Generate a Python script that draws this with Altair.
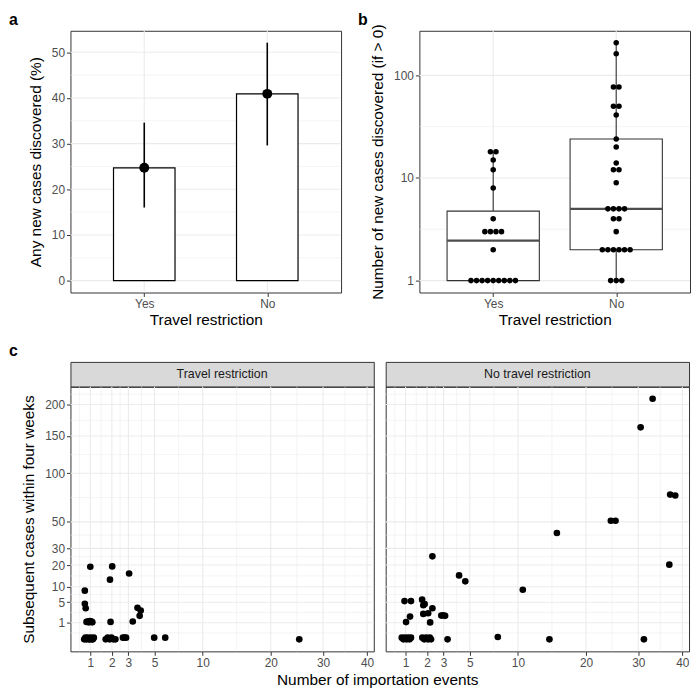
import altair as alt
import numpy as np
import pandas as pd

FONT = "Liberation Sans"
BORDER = "#333333"
GRID = "#EBEBEB"

# ---------------- data ----------------
restriction = ["Yes", "No"]
any_new_pct = [24.7, 40.9]
any_new_lo = [16.0, 29.6]
any_new_hi = [34.6, 52.1]

cases_yes = [1, 1, 1, 1, 1, 1, 1, 1, 1, 2, 3, 3, 3, 3, 4, 8, 12, 15, 18, 18]
cases_no = [1, 1, 1, 2, 2, 2, 2, 2, 2, 3, 4, 4, 5, 5, 5, 5, 9, 12, 12, 14,
            20, 24, 41, 50, 50, 77, 77, 162, 208]

strip_labels = ["Travel restriction", "No travel restriction"]

tr_import = [1.0, 2.02, 3.05, 1.9, 0.8, 0.8, 0.83, 3.64, 3.88, 3.8, 3.3, 1.93,
             0.86, 0.9, 0.94, 0.98, 1.02, 1.05, 1.08,
             0.78, 0.82, 0.86, 0.9, 0.94, 0.98, 1.02, 1.06, 1.1, 1.14,
             1.68, 1.78, 1.88, 1.98, 2.08, 2.2, 2.65, 2.75, 2.85, 4.97, 5.96, 25.2]
tr_subseq = [19.1, 19.3, 15.7, 12.9, 8.6, 4.6, 3.5, 3.6, 3.0, 2.0, 1.15, 1.1,
             1.1, 1.15, 1.05, 1.2, 1.1, 1.15, 1.05,
             0, 0.01, 0, 0.01, 0, 0, 0.01, 0, 0, 0.01,
             0, 0.01, 0, 0.01, 0, 0, 0.01, 0.01, 0.01, 0.01, 0.01, 0]

ntr_import = [33.1, 30.5, 37.1, 38.3, 24.5, 25.4, 15.3, 2.3, 36.9, 4.12, 4.62, 10.6,
              0.96, 1.22, 1.74, 1.8, 1.87, 2.3, 1.8, 2.06, 2.85, 2.97, 3.1, 1.18, 1.02, 2.17,
              0.86, 0.92, 0.98, 1.04, 1.1, 1.16, 1.22, 1.75, 1.85, 1.95, 2.05, 2.15, 2.22,
              3.27, 7.7, 14.2, 31.2]
ntr_subseq = [210, 163, 76, 75, 51, 51, 41, 25, 20.2, 14.8, 12.2, 8.9,
              5.3, 5.3, 5.7, 4.2, 4.5, 3.5, 2.34, 2.46, 2.05, 2.1, 2.0, 1.88, 1.08, 1.04,
              0.01, 0, 0.01, 0, 0.01, 0, 0.01, 0.01, 0, 0.01, 0, 0.01, 0,
              0, 0.02, 0, 0]

a_y_breaks = [0, 10, 20, 30, 40, 50]
b_y_breaks = [1, 10, 100]
c_x_breaks = [1, 2, 3, 5, 10, 20, 30, 40]
c_y_breaks = [1, 5, 10, 20, 30, 50, 100, 150, 200]

# ---------------- sizes ----------------
WA, HA = 273, 264
WC, HC = 306, 267
C_GAP = 8
STRIP_H = 25
TAG_X, TAG_Y = -62, -6

# ---------------- transforms / helpers ----------------
ident = (lambda v: v, lambda t: t)
log10 = (lambda v: np.log10(v), lambda t: 10 ** t)
sqrt_ = (lambda v: np.sign(v) * np.sqrt(abs(v)), lambda t: np.sign(t) * t * t)


def expand(vals, tr, mult=0.05):
    f, inv = tr
    t = [f(v) for v in vals]
    lo, hi = min(t), max(t)
    d = (hi - lo) * mult
    return [float(inv(lo - d)), float(inv(hi + d))]


def grid_values(breaks, dom, tr):
    f, inv = tr
    lo, hi = f(dom[0]), f(dom[1])
    b = [f(v) for v in breaks]
    major = [v for v, t in zip(breaks, b) if lo <= t <= hi]
    bd = b[1] - b[0]
    ext = list(b)
    if lo < ext[0]:
        ext = [ext[0] - bd] + ext
    if hi > ext[-1]:
        ext = ext + [ext[-1] + bd]
    minor = [float(inv((ext[i] + ext[i + 1]) / 2)) for i in range(len(ext) - 1)]
    minor = [v for v in minor if lo <= f(v) <= hi]
    return major, minor


def grid_layers(X, Y, xmaj, xmin, ymaj, ymin):
    out = []
    for vals, w in ((xmin, 0.55), (xmaj, 1.1)):
        if vals:
            out.append(alt.Chart(pd.DataFrame({"gx": vals}))
                       .mark_rule(color=GRID, strokeWidth=w).encode(x=X("gx")))
    for vals, w in ((ymin, 0.55), (ymaj, 1.1)):
        if vals:
            out.append(alt.Chart(pd.DataFrame({"gy": vals}))
                       .mark_rule(color=GRID, strokeWidth=w).encode(y=Y("gy")))
    return out


def tag(letter):
    return (alt.Chart(pd.DataFrame({"t": [letter]}))
            .mark_text(font=FONT, fontSize=16, fontWeight="bold", align="left",
                       baseline="alphabetic", color="#000000")
            .encode(x=alt.value(TAG_X), y=alt.value(TAG_Y), text="t:N"))


# ---------------- panel a ----------------
cat_pos = [1, 2]
cat_dom = [0.4, 2.6]
cat_label_expr = f"datum.value == 1 ? '{restriction[0]}' : '{restriction[1]}'"


def Xcat(field):
    return alt.X(f"{field}:Q", scale=alt.Scale(domain=cat_dom, nice=False, zero=False),
                 axis=alt.Axis(values=cat_pos, labelExpr=cat_label_expr),
                 title="Travel restriction")


a_y_dom = expand([0] + any_new_hi, ident)


def Ya(field):
    return alt.Y(f"{field}:Q", scale=alt.Scale(domain=a_y_dom, nice=False, zero=False),
                 axis=alt.Axis(values=a_y_breaks), title="Any new cases discovered (%)")


ay_maj, ay_min = grid_values(a_y_breaks, a_y_dom, ident)
df_a = pd.DataFrame({"pos": cat_pos, "x0": [p - 0.25 for p in cat_pos],
                     "x1": [p + 0.25 for p in cat_pos], "base": [0, 0],
                     "pct": any_new_pct, "lo": any_new_lo, "hi": any_new_hi})
base_a = alt.Chart(df_a)
panel_a = alt.layer(
    *grid_layers(Xcat, Ya, cat_pos, [], ay_maj, ay_min),
    base_a.mark_rect(fill="white", stroke="#000000", strokeWidth=1.2).encode(
        x=Xcat("x0"), x2="x1:Q", y=Ya("base"), y2="pct:Q"),
    base_a.mark_rule(color="#000000", strokeWidth=1.6).encode(
        x=Xcat("pos"), y=Ya("lo"), y2="hi:Q"),
    base_a.mark_circle(color="#000000", size=100, opacity=1).encode(
        x=Xcat("pos"), y=Ya("pct")),
    tag("a"),
).properties(width=WA, height=HA)

# ---------------- panel b ----------------
b_y_dom = expand(cases_yes + cases_no, log10)


def Yb(field):
    return alt.Y(f"{field}:Q", scale=alt.Scale(type="log", domain=b_y_dom, nice=False, zero=False),
                 axis=alt.Axis(values=b_y_breaks, format="d"),
                 title="Number of new cases discovered (if > 0)")


def box_stats(vals):
    lv = np.log10(np.array(vals, dtype=float))
    q1, med, q3 = np.percentile(lv, [25, 50, 75])
    iqr = q3 - q1
    lo = lv[lv >= q1 - 1.5 * iqr].min()
    hi = lv[lv <= q3 + 1.5 * iqr].max()
    return [10 ** v for v in (lo, q1, med, q3, hi)]


box_rows = []
dot_rows = []
DOT_PX = 5.6
DOT_STEP = DOT_PX / (WA / (cat_dom[1] - cat_dom[0]))
for p, vals in zip(cat_pos, (cases_yes, cases_no)):
    lo, q1, med, q3, hi = box_stats(vals)
    box_rows.append({"pos": p, "x0": p - 0.375, "x1": p + 0.375,
                     "lo": lo, "q1": q1, "med": med, "q3": q3, "hi": hi})
    uniq, counts = np.unique(vals, return_counts=True)
    for v, n in zip(uniq, counts):
        for k in range(n):
            dot_rows.append({"dx": p + (k - (n - 1) / 2) * DOT_STEP, "cases": float(v)})
df_box = pd.DataFrame(box_rows)
df_dot = pd.DataFrame(dot_rows)
by_maj, by_min = grid_values(b_y_breaks, b_y_dom, log10)
base_b = alt.Chart(df_box)
panel_b = alt.layer(
    *grid_layers(Xcat, Yb, cat_pos, [], by_maj, by_min),
    base_b.mark_rule(color=BORDER, strokeWidth=1.1).encode(x=Xcat("pos"), y=Yb("q3"), y2="hi:Q"),
    base_b.mark_rule(color=BORDER, strokeWidth=1.1).encode(x=Xcat("pos"), y=Yb("lo"), y2="q1:Q"),
    base_b.mark_rect(fill="white", stroke=BORDER, strokeWidth=1.1).encode(
        x=Xcat("x0"), x2="x1:Q", y=Yb("q1"), y2="q3:Q"),
    base_b.mark_rule(color="#4D4D4D", strokeWidth=2.2).encode(x=Xcat("x0"), x2="x1:Q", y=Yb("med")),
    alt.Chart(df_dot).mark_circle(color="#000000", size=DOT_PX ** 2, opacity=1).encode(
        x=Xcat("dx"), y=Yb("cases")),
    tag("b"),
).properties(width=WA, height=HA)

# ---------------- panel c ----------------
c_x_dom = expand(tr_import + ntr_import, sqrt_)
c_y_dom = expand(tr_subseq + ntr_subseq, sqrt_)
cx_maj, cx_min = grid_values(c_x_breaks, c_x_dom, sqrt_)
cy_maj, cy_min = grid_values(c_y_breaks, c_y_dom, sqrt_)


def c_plot(imp, sub, left):
    def X(field):
        return alt.X(f"{field}:Q",
                     scale=alt.Scale(type="sqrt", domain=c_x_dom, nice=False, zero=False),
                     axis=alt.Axis(values=c_x_breaks), title=None)

    def Y(field):
        sc = alt.Scale(type="sqrt", domain=c_y_dom, nice=False, zero=False)
        if left:
            return alt.Y(f"{field}:Q", scale=sc, axis=alt.Axis(values=c_y_breaks),
                         title="Subsequent cases within four weeks")
        return alt.Y(f"{field}:Q", scale=sc, axis=None)

    df = pd.DataFrame({"imp": imp, "sub": sub})
    return alt.layer(
        *grid_layers(X, Y, cx_maj, cx_min, cy_maj, cy_min),
        alt.Chart(df).mark_circle(color="#000000", size=45, opacity=1).encode(
            x=X("imp"), y=Y("sub")),
    ).properties(width=WC, height=HC)


def strip(label, letter=None):
    layers = [alt.Chart(pd.DataFrame({"lab": [label]}))
              .mark_text(font=FONT, fontSize=12.5, color="#1A1A1A", align="center",
                         baseline="middle")
              .encode(x=alt.value(WC / 2), y=alt.value(STRIP_H / 2), text="lab:N")]
    if letter:
        layers.append(tag(letter))
    return alt.layer(*layers).properties(
        width=WC, height=STRIP_H,
        view=alt.ViewBackground(fill="#D9D9D9", stroke=BORDER, strokeWidth=1))


left_c = alt.vconcat(strip(strip_labels[0], "c"), c_plot(tr_import, tr_subseq, True),
                     spacing=0, bounds="flush")
right_c = alt.vconcat(strip(strip_labels[1]), c_plot(ntr_import, ntr_subseq, False),
                      spacing=0, bounds="flush")
c_row = alt.hconcat(left_c, right_c, spacing=C_GAP)

# shared x-axis title of panel c, centred under both plots
XT_W = 2 * WC + C_GAP
c_xtitle = (alt.Chart(pd.DataFrame({"t": ["Number of importation events"]}))
            .mark_text(font=FONT, fontSize=15.5, color="#000000", align="center",
                       baseline="top")
            .encode(x=alt.value(XT_W / 2), y=alt.value(3), text="t:N")
            .properties(width=XT_W, height=18,
                        view=alt.ViewBackground(stroke="transparent")))

top_row = alt.hconcat(panel_a, panel_b, spacing=14)

chart = (
    alt.vconcat(top_row, alt.vconcat(c_row, c_xtitle, spacing=0), spacing=14)
    .properties(padding={"left": 0, "top": 0, "right": 0, "bottom": 0}, background="white")
    .configure_view(stroke=BORDER, strokeWidth=1)
    .configure_axis(grid=False, domain=False, ticks=True, tickColor=BORDER, tickSize=4,
                    tickWidth=1, labelColor="#4D4D4D", labelFont=FONT, labelFontSize=12,
                    labelPadding=2, titleFont=FONT, titleFontSize=15.5,
                    titleFontWeight="normal", titleColor="#000000")
    .configure_axisX(titlePadding=3)
    .configure_axisY(titlePadding=8)
)

chart.save("out.html", embed_options={"renderer": "svg", "actions": False})
